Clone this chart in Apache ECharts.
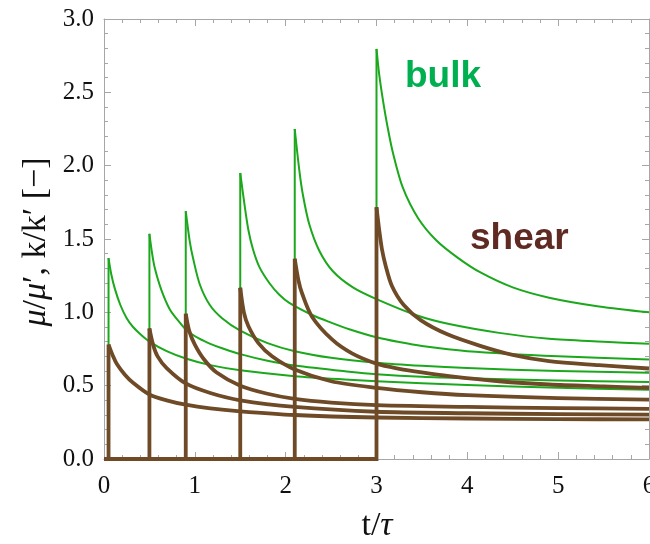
<!DOCTYPE html>
<html>
<head>
<meta charset="utf-8">
<script src="https://cdn.jsdelivr.net/npm/echarts@6/dist/echarts.min.js"></script>
<style>
html,body{margin:0;padding:0;background:#fff;}
#chart{width:650px;height:544px;}
</style>
</head>
<body>
<div id="chart"></div>
<script>
// x-axis ticks / y-axis ticks
const xTicks = [0, 1, 2, 3, 4, 5, 6];
const yTicks = [0.0, 0.5, 1.0, 1.5, 2.0, 2.5, 3.0];
// loading (start) times of each step
const startTimes = [0.05, 0.5, 0.9, 1.5, 2.1, 3.0];

// bulk (k/k') curves: [t, value], first point = peak at start time
const bulk1 = [[0.05,1.37],[0.08,1.26],[0.12,1.16],[0.18,1.05],[0.25,0.96],[0.32,0.90],[0.41,0.845],[0.5,0.80],[0.69,0.735],[0.9,0.685],[1.17,0.64],[1.5,0.605],[2.1,0.565],[2.7,0.54],[3.0,0.53],[4.0,0.505],[5.0,0.485],[6.0,0.472]];
const bulk2 = [[0.5,1.535],[0.53,1.40],[0.56,1.30],[0.63,1.155],[0.725,1.02],[0.835,0.93],[0.915,0.875],[1.05,0.82],[1.17,0.785],[1.3,0.755],[1.5,0.715],[1.8,0.67],[2.1,0.637],[2.7,0.595],[3.0,0.578],[3.5,0.56],[4.0,0.55],[5.0,0.535],[6.0,0.525]];
const bulk3 = [[0.9,1.69],[0.945,1.48],[0.98,1.37],[1.055,1.19],[1.165,1.05],[1.3,0.96],[1.5,0.875],[1.8,0.79],[2.1,0.735],[2.5,0.69],[3.0,0.656],[3.5,0.635],[4.0,0.62],[5.0,0.60],[6.0,0.588]];
const bulk4 = [[1.5,1.95],[1.55,1.72],[1.59,1.56],[1.64,1.43],[1.71,1.31],[1.82,1.20],[1.93,1.12],[2.04,1.065],[2.3,0.98],[2.5,0.93],[2.7,0.885],[3.0,0.83],[3.25,0.797],[3.5,0.77],[4.0,0.735],[5.0,0.70],[6.0,0.678]];
const bulk5 = [[2.1,2.25],[2.15,1.97],[2.19,1.80],[2.26,1.60],[2.37,1.42],[2.52,1.28],[2.74,1.17],[3.0,1.09],[3.44,0.98],[3.8,0.92],[4.35,0.86],[4.9,0.82],[5.5,0.80],[6.0,0.785]];
const bulk6 = [[3.0,2.796],[3.03,2.62],[3.07,2.45],[3.12,2.27],[3.18,2.09],[3.29,1.85],[3.46,1.64],[3.66,1.49],[3.9,1.37],[4.15,1.27],[4.5,1.17],[4.9,1.10],[5.45,1.04],[6.0,1.0]];

// shear (mu/mu') curves
const shear1 = [[0.05,0.78],[0.1,0.70],[0.14,0.65],[0.23,0.575],[0.32,0.52],[0.5,0.44],[0.69,0.40],[0.9,0.37],[1.17,0.345],[1.5,0.325],[2.1,0.30],[3.0,0.283],[4.0,0.276],[5.0,0.272],[6.0,0.27]];
const shear2 = [[0.5,0.89],[0.54,0.78],[0.59,0.70],[0.69,0.62],[0.9,0.515],[1.17,0.45],[1.5,0.40],[2.1,0.355],[3.0,0.322],[4.0,0.312],[5.0,0.306],[6.0,0.303]];
const shear3 = [[0.9,0.99],[0.94,0.87],[1.0,0.78],[1.1,0.68],[1.24,0.59],[1.5,0.50],[1.8,0.445],[2.1,0.41],[2.5,0.385],[3.0,0.368],[4.0,0.355],[5.0,0.347],[6.0,0.342]];
const shear4 = [[1.5,1.167],[1.54,1.0],[1.59,0.905],[1.7,0.79],[1.85,0.70],[2.1,0.61],[2.5,0.53],[3.0,0.485],[3.5,0.455],[4.0,0.435],[5.0,0.415],[6.0,0.405]];
const shear5 = [[2.1,1.365],[2.14,1.22],[2.18,1.13],[2.29,0.97],[2.51,0.815],[2.73,0.72],[3.0,0.65],[3.25,0.615],[3.5,0.59],[3.8,0.565],[4.35,0.53],[4.9,0.508],[5.5,0.495],[6.0,0.485]];
const shear6 = [[3.0,1.716],[3.03,1.56],[3.06,1.43],[3.1,1.32],[3.17,1.18],[3.3,1.05],[3.49,0.945],[3.78,0.85],[4.15,0.77],[4.5,0.71],[4.9,0.667],[5.45,0.64],[6.0,0.617]];

const bulkCurves = [bulk1, bulk2, bulk3, bulk4, bulk5, bulk6];
const shearCurves = [shear1, shear2, shear3, shear4, shear5, shear6];

const GREEN = '#1ca81c';
const BROWN = '#6e4a27';
const FRAME = '#a6a6a6';

function stepSeries(curve, i, color, width, z) {
  const t0 = startTimes[i];
  const peak = curve[0];
  return [
    { type: 'line', data: [[xTicks[0], 0], [t0, 0], peak], showSymbol: false, symbol: 'none',
      lineStyle: { color: color, width: width, cap: 'butt', join: 'miter' }, z: z, animation: false, silent: true },
    { type: 'line', data: curve, showSymbol: false, symbol: 'none', smooth: 0.3,
      lineStyle: { color: color, width: width, join: 'round' }, z: z, animation: false, silent: true }
  ];
}

let series = [];
bulkCurves.forEach((c, i) => { series = series.concat(stepSeries(c, i, GREEN, 2, 2)); });
shearCurves.forEach((c, i) => { series = series.concat(stepSeries(c, i, BROWN, 3.8, 3)); });

const tickFont = { fontFamily: 'Liberation Serif', fontSize: 25, color: '#111' };
const frameAxis = {
  axisLine: { show: true, onZero: false, lineStyle: { color: FRAME, width: 1 } },
  axisTick: { show: true, inside: true, length: 7, lineStyle: { color: FRAME } },
  minorTick: { show: true, splitNumber: 5, length: 4, lineStyle: { color: FRAME } },
  splitLine: { show: false }
};

const chart = echarts.init(document.getElementById('chart'), null, { renderer: 'canvas' });
chart.setOption({
  animation: false,
  backgroundColor: '#fff',
  grid: { left: 104, right: 1, top: 19, bottom: 85, containLabel: false, outerBoundsMode: 'none' },
  xAxis: [
    Object.assign({ type: 'value', min: xTicks[0], max: xTicks[xTicks.length - 1], interval: 1, position: 'bottom',
      axisLabel: Object.assign({ margin: 15, formatter: v => String(v) }, tickFont) }, frameAxis),
    Object.assign({ type: 'value', min: xTicks[0], max: xTicks[xTicks.length - 1], interval: 1, position: 'top',
      axisLabel: { show: false } }, frameAxis)
  ],
  yAxis: [
    Object.assign({ type: 'value', min: yTicks[0], max: yTicks[yTicks.length - 1], interval: 0.5, position: 'left',
      axisLabel: Object.assign({ margin: 10, formatter: v => v.toFixed(1) }, tickFont) }, frameAxis),
    Object.assign({ type: 'value', min: yTicks[0], max: yTicks[yTicks.length - 1], interval: 0.5, position: 'right',
      axisLabel: { show: false } }, frameAxis)
  ],
  graphic: [
    { type: 'text', left: 405, top: 58, z: 10,
      style: { text: 'bulk', fontFamily: 'Liberation Sans', fontWeight: 'bold', fontSize: 37, fill: '#00b050' } },
    { type: 'text', left: 470, top: 220, z: 10,
      style: { text: 'shear', fontFamily: 'Liberation Sans', fontWeight: 'bold', fontSize: 37, fill: '#5e2a22' } },
    { type: 'text', x: 377, y: 526, z: 10,
      style: { text: '{n|t/}{i|τ}', align: 'center', verticalAlign: 'middle',
        rich: { n: { fontFamily: 'Liberation Serif', fontSize: 34, fill: '#111' },
                i: { fontFamily: 'Liberation Serif', fontStyle: 'italic', fontSize: 34, fill: '#111' } } } },
    { type: 'text', x: 36, y: 242, rotation: Math.PI / 2, z: 10,
      style: { text: '{i|μ}{n|/}{i|μ}{n|′, k/k′ [−]}', align: 'center', verticalAlign: 'middle',
        rich: { n: { fontFamily: 'Liberation Serif', fontSize: 34, fill: '#111' },
                i: { fontFamily: 'Liberation Serif', fontStyle: 'italic', fontSize: 34, fill: '#111' } } } }
  ],
  series: series
});
</script>
</body>
</html>
